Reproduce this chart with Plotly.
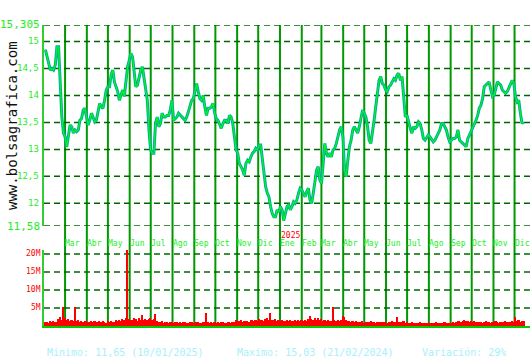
import plotly.graph_objects as go
import pandas as pd

# ---- data ----
start_date = "2024-02-02"
end_date = "2025-12-14"

close = [
    # Feb - early Jun 2024
    14.85, 14.72, 14.6, 14.47, 14.5, 14.47, 14.56, 14.9, 14.9, 14.28, 13.6, 13.3, 13.23, 13.05, 13.3, 13.45, 13.42,
    13.3, 13.36, 13.33, 13.36, 13.54, 13.57, 13.73, 13.76, 13.6, 13.45, 13.54, 13.67, 13.6, 13.51, 13.54, 13.73,
    13.85, 13.79, 13.76, 13.91, 14.1, 14.16, 14.16, 14.38, 14.47, 14.25, 14.16, 14.07, 13.91, 14.0, 14.1, 13.98,
    14.22, 14.53,
    # Jun - Oct 2024
    14.65, 14.78, 14.72, 14.41, 14.16, 14.19, 14.31, 14.47, 14.53, 14.35, 14.1, 13.91, 13.36, 12.99, 12.93, 12.93,
    13.48, 13.6, 13.42, 13.48, 13.67, 13.6, 13.6, 13.63, 13.63, 13.73, 13.91, 13.54, 13.57, 13.6, 13.67, 13.63,
    13.6, 13.57, 13.54, 13.6, 13.7, 13.79, 13.91, 13.94, 14.07, 14.22, 14.07, 13.94, 13.91, 14.0, 13.79, 13.63,
    13.76, 13.76, 13.79,
    # Oct 2024 - Feb 2025
    13.85, 13.67, 13.57, 13.54, 13.48, 13.39, 13.48, 13.54, 13.54, 13.48, 13.63, 13.6, 13.48, 13.23, 12.99, 12.93,
    12.74, 12.68, 12.62, 12.52, 12.74, 12.8, 12.77, 12.86, 12.93, 12.96, 13.02, 12.99, 13.08, 13.08, 12.8, 12.49,
    12.31, 12.19, 12.12, 11.94, 11.81, 11.75, 11.75, 11.88, 11.84, 11.94, 11.88, 11.68, 11.84, 11.94, 11.97, 11.88,
    11.94, 12.03, 12.0,
    # Feb - Jun 2025
    12.06, 12.19, 12.28, 12.25, 12.19, 12.12, 12.22, 12.28, 12.06, 12.0, 12.19, 12.37, 12.62, 12.68, 12.43, 12.37,
    12.8, 13.11, 12.93, 12.86, 12.93, 12.86, 12.99, 13.02, 13.11, 13.27, 13.36, 13.42, 13.23, 12.62, 12.49, 12.8,
    13.05, 13.17, 13.36, 13.42, 13.36, 13.3, 13.42, 13.6, 13.73, 13.67, 13.6, 13.42, 13.17, 13.11, 13.3, 13.54,
    13.79, 14.1, 14.28, 14.35,
    # Jun - Oct 2025
    14.22, 14.19, 14.1, 14.07, 14.16, 14.19, 14.25, 14.31, 14.28, 14.38, 14.41, 14.28, 14.35, 13.98, 13.6, 13.63,
    13.48, 13.39, 13.3, 13.42, 13.39, 13.42, 13.51, 13.48, 13.36, 13.2, 13.17, 13.23, 13.27, 13.23, 13.17, 13.14,
    13.17, 13.23, 13.27, 13.36, 13.48, 13.48, 13.42, 13.36, 13.23, 13.14, 13.17, 13.2, 13.2, 13.23, 13.36, 13.17,
    13.14, 13.11, 13.08,
    # Oct - Dec 2025
    13.05, 13.2, 13.27, 13.33, 13.39, 13.45, 13.54, 13.63, 13.76, 13.82, 13.94, 14.16, 14.19, 14.22, 14.25, 14.1,
    13.98, 14.0, 14.16, 14.25, 14.22, 14.19, 14.1, 14.07, 14.04, 14.07, 14.13, 14.22, 14.28, 14.22, 13.98, 13.88,
    13.91, 13.67, 13.48, 13.51,
]

volume_m = [
    1.0, 1.2, 0.9, 1.3, 1.1, 1.4, 1.2, 1.0, 2.0, 2.4, 1.8, 5.3, 2.2, 1.6, 2.0, 1.4, 1.8, 1.5, 5.3,
    1.3, 1.6, 1.2, 1.5, 1.1, 1.4, 1.3, 1.0, 1.2, 1.5, 1.1, 1.3,
    1.2, 1.0, 1.3, 1.1, 1.4, 1.2, 0.9, 1.3, 1.1, 1.5, 1.2, 1.0, 1.6, 1.3, 1.8, 1.5, 2.0, 1.7, 2.2, 22.0,
    2.0, 1.8, 1.6, 2.2, 1.9, 1.5, 2.1, 1.7, 3.0, 1.8, 2.0, 1.6, 1.9, 2.3, 1.7, 2.0, 3.3,
    1.5, 1.2, 1.0, 1.3, 0.9, 1.1, 1.2, 0.8, 1.0, 1.1, 0.9, 1.2, 1.0, 0.8, 1.1, 0.9, 1.0, 1.2, 0.8, 0.9,
    1.1, 1.0, 0.8, 0.9, 1.0, 1.2, 0.9, 0.8, 1.0, 1.1, 3.6, 1.0, 0.9, 1.1,
    0.9, 1.0, 0.8, 1.1, 0.9, 1.0, 1.2, 0.9, 0.8, 1.0, 1.1, 0.9, 1.0, 1.2, 1.8, 1.5, 1.3, 1.6, 1.2, 1.4,
    1.3, 1.5, 1.2, 1.6, 1.8, 1.4, 1.7, 1.5, 2.0, 1.6, 1.8, 1.5, 1.9, 2.2, 1.7, 3.6,
    1.8, 1.6, 2.0, 1.5, 1.7, 1.4, 1.6, 1.3, 1.5, 1.8, 1.4, 1.6, 1.3, 1.5, 1.7,
    1.5, 1.8, 1.4, 1.6, 1.3, 1.7, 1.5, 1.9, 2.8, 2.0, 1.7, 2.2, 1.8, 2.1, 1.6, 1.9,
    1.5, 1.7, 1.4, 1.6, 1.3, 1.5, 5.3, 1.6, 1.4, 1.7, 1.5, 1.8, 2.8, 2.4,
    1.6, 1.3, 1.5, 1.2, 1.4, 1.1, 1.3, 1.0, 1.2, 1.1, 1.3, 0.9, 1.2, 1.0, 1.1, 1.3, 1.0, 1.2, 0.9, 1.1, 1.0, 1.2,
    1.1, 1.0, 1.2, 0.9, 1.1, 1.0, 1.3, 1.1, 1.0, 2.6,
    1.2, 1.0, 1.1, 1.3, 0.9, 1.0, 0.8, 0.9, 1.0, 0.8, 0.7, 0.9, 0.8, 1.0, 0.7, 0.8, 0.9, 0.7, 0.8,
    0.8, 0.9, 0.7, 0.8, 1.0, 0.8, 0.7, 0.9, 0.8, 1.0, 0.7, 0.8, 0.9, 0.8, 1.0, 0.9, 1.1,
    1.3, 1.5, 1.2, 1.4, 1.6,
    1.3, 1.5, 1.2, 1.4, 1.1, 1.3, 1.0, 1.2,
    1.0, 1.2, 0.9, 1.1, 1.3, 1.0, 1.2, 0.9, 1.1, 1.0, 1.3, 1.1, 0.9, 1.2, 1.0, 1.1, 1.3, 1.0, 1.2, 1.1, 1.4, 1.2,
    2.5, 1.4, 1.8, 1.2, 1.5, 1.3,
]

month_starts = pd.date_range("2024-03-01", "2025-12-01", freq="MS")
month_labels = ["Mar", "Abr", "May", "Jun", "Jul", "Ago", "Sep", "Oct", "Nov", "Dic", "Ene",
                "Feb", "Mar", "Abr", "May", "Jun", "Jul", "Ago", "Sep", "Oct", "Nov", "Dic"]
price_ticks = [15, 14.5, 14, 13.5, 13, 12.5, 12]
price_top = 15.305
price_bottom = 11.58
vol_ticks = [5e6, 10e6, 15e6, 20e6]
vol_tick_labels = ["5M", "10M", "15M", "20M"]
year_label = "2025"
stats = ["Minimo: 11,65 (10/01/2025)", "Maximo: 15,03 (21/02/2024)", "Variación: 29%"]

dates = pd.date_range(start_date, end_date, periods=len(close))
vdates = pd.date_range(start_date, end_date, periods=len(volume_m))
volume = [v * 1e6 for v in volume_m]

W, H = 530, 360
x0 = 44 / W
y_top = (1 - 25 / H, 1 - 226 / H)
y_vol = (1 - 326 / H, 1 - 250 / H)

fig = go.Figure()
fig.add_trace(go.Scatter(x=dates, y=close, mode="lines", line=dict(color="#00aaaa", width=3),
                         xaxis="x", yaxis="y", hoverinfo="skip"))
fig.add_trace(go.Scatter(x=dates, y=close, mode="lines", line=dict(color="#00ff00", width=1.1),
                         xaxis="x", yaxis="y"))
fig.add_trace(go.Bar(x=vdates, y=volume, marker=dict(color="#ff0000", line=dict(width=0)),
                     xaxis="x", yaxis="y2"))

shapes = []
for d in month_starts:
    shapes.append(dict(type="line", xref="x", yref="paper", x0=d, x1=d, y0=y_vol[0], y1=y_top[0],
                       line=dict(color="#009900", width=2), layer="below"))
for v in price_ticks + [price_top, price_bottom]:
    shapes.append(dict(type="line", xref="paper", yref="y", x0=x0, x1=1, y0=v, y1=v,
                       line=dict(color="#006600", width=1.5, dash="6px,4px"), layer="below"))
for v in vol_ticks:
    shapes.append(dict(type="line", xref="paper", yref="y2", x0=x0, x1=1, y0=v, y1=v,
                       line=dict(color="#006600", width=1.5, dash="6px,4px"), layer="below"))

mono = "DejaVu Sans Mono"
ann = []
for v in price_ticks:
    ann.append(dict(x=41 / W, xref="paper", y=v, yref="y", xanchor="right", yanchor="middle",
                    text=f"{v:g}".replace(".", ","), showarrow=False,
                    font=dict(family=mono, size=9, color="#22ee22")))
for v in [price_top, price_bottom]:
    ann.append(dict(x=42 / W, xref="paper", y=v, yref="y", xanchor="right", yanchor="middle",
                    text=f"{v:g}".replace(".", ","), showarrow=False,
                    font=dict(family=mono, size=11, color="#22ee22")))
for v, t in zip(vol_ticks, vol_tick_labels):
    ann.append(dict(x=43 / W, xref="paper", y=v, yref="y2", xanchor="right", yanchor="middle",
                    text=t, showarrow=False, font=dict(family=mono, size=8, color="#ff0000")))
for d, t in zip(month_starts, month_labels):
    ann.append(dict(x=d, xref="x", y=1 - 243 / H, yref="paper", xanchor="left", yanchor="middle",
                    xshift=-2, text=t, showarrow=False, font=dict(family=mono, size=8, color="#22ee22")))
ann.append(dict(x=month_starts[10], xref="x", y=1 - 235 / H, yref="paper", xanchor="left",
                yanchor="middle", xshift=-1, text=year_label, showarrow=False,
                font=dict(family=mono, size=8, color="#ff0000")))
for px, t in zip([45, 235, 420], stats):
    ann.append(dict(x=px / W, xref="paper", y=1 - 352 / H, yref="paper", xanchor="left", yanchor="middle",
                    text=t, showarrow=False, font=dict(family=mono, size=10, color="#a8f0fa")))
ann.append(dict(x=12 / W, xref="paper", y=1 - 126 / H, yref="paper", xanchor="center", yanchor="middle",
                text="www.bolsagrafica.com", textangle=-90, showarrow=False,
                font=dict(family=mono, size=14, color="#111111")))

fig.update_layout(
    width=W, height=H, margin=dict(l=0, r=0, t=0, b=0),
    paper_bgcolor="white", plot_bgcolor="white", showlegend=False, bargap=0,
    shapes=shapes, annotations=ann,
    xaxis=dict(domain=[x0, 1], range=["2024-01-31", "2025-12-23"], anchor="y2",
               showticklabels=False, showgrid=False, zeroline=False, ticks="",
               showline=True, linecolor="#00cc00", linewidth=2),
    yaxis=dict(domain=list(reversed(y_top)), range=[price_bottom, price_top], anchor="x",
               showticklabels=False, showgrid=False, zeroline=False, ticks="",
               showline=True, linecolor="#33cc33", linewidth=1.5),
    yaxis2=dict(domain=list(y_vol), range=[0, 21.1e6], anchor="x",
                showticklabels=False, showgrid=False, zeroline=False, ticks="",
                showline=True, linecolor="#33cc33", linewidth=1.5),
)

fig.write_html("out.html")
